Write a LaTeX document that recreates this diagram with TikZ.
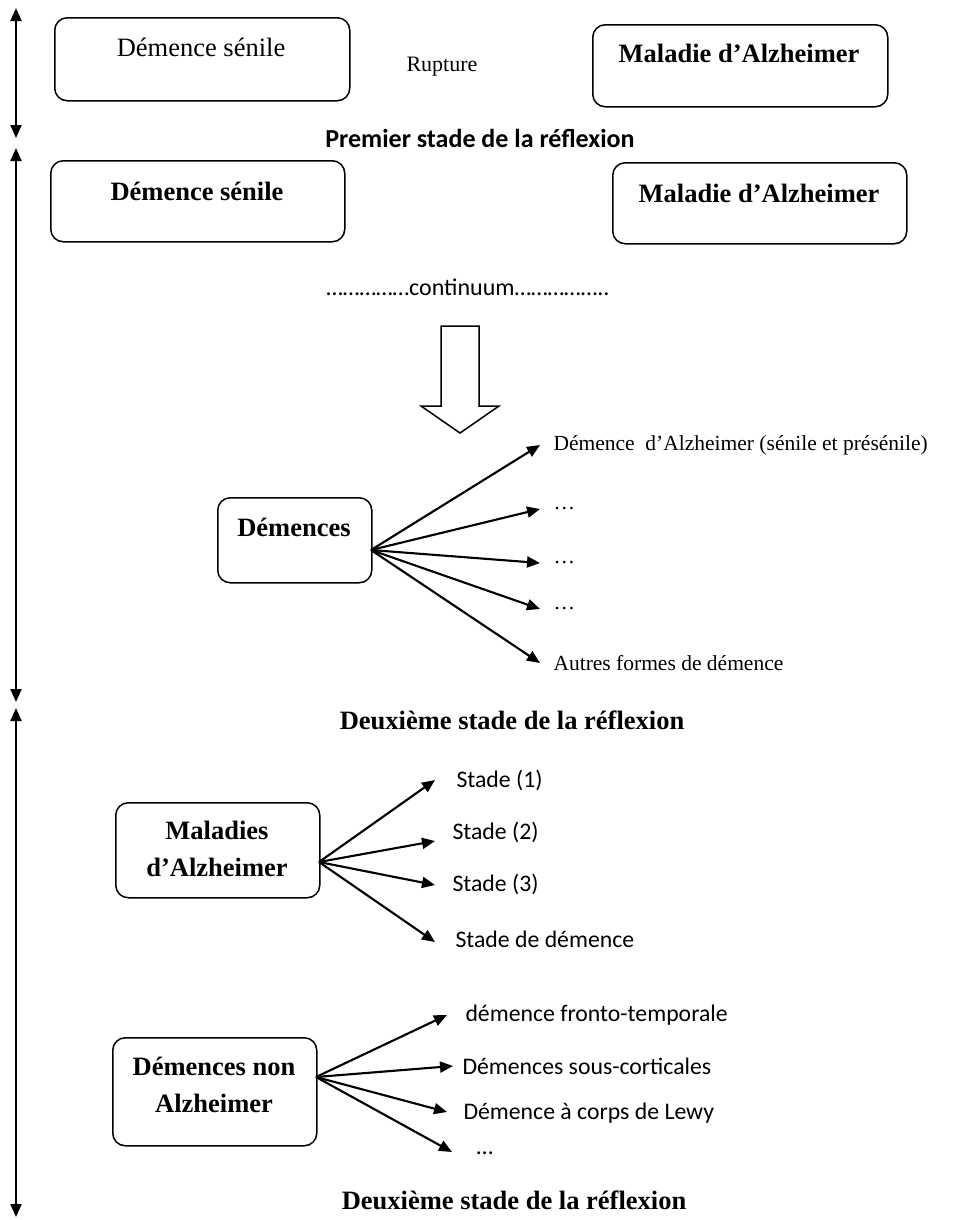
\documentclass[tikz,border=0pt]{standalone}
\usepackage{fontspec}
\setmainfont{Liberation Serif}
\newfontfamily\calibri{Carlito}
\usetikzlibrary{arrows.meta,positioning}

\tikzset{
  box/.style={draw, rounded corners=5pt, line width=0.6pt, anchor=north west, inner sep=0pt},
  boxtext/.style={font=\fontsize{10.6}{14.5}\selectfont\bfseries, align=center, inner sep=0pt},
  boxplain/.style={font=\fontsize{10.6}{14.5}\selectfont, inner sep=0pt},
  small/.style={font=\fontsize{8.6}{10}\selectfont, anchor=west, inner sep=0pt},
  sans/.style={font=\fontsize{9.5}{11}\selectfont\calibri, anchor=west, inner sep=0pt},
  heading/.style={font=\fontsize{10.6}{12}\selectfont\bfseries, inner sep=0pt},
  arr/.style={line width=0.85pt, -{Triangle[length=5.2pt,width=4.4pt]}},
  stage/.style={line width=0.85pt, {Triangle[length=5.2pt,width=4.4pt]}-{Triangle[length=5.2pt,width=4.4pt]}}
}

\begin{document}
\begin{tikzpicture}[x=0.4pt, y=-0.4pt]
    \useasboundingbox (0,0) rectangle (976,1220);

    % Stage markers (left side)
    \coordinate (s1a) at (16,8);
    \coordinate (s1b) at (16,138);
    \coordinate (s2a) at (16,148);
    \coordinate (s2b) at (16,702);
    \coordinate (s3a) at (16,708);
    \coordinate (s3b) at (16,1217);
    \draw[stage] (s1a) -- (s1b);
    \draw[stage] (s2a) -- (s2b);
    \draw[stage] (s3a) -- (s3b);

    % First stage: rupture
    \node[box, minimum width=118pt, minimum height=33.2pt] (senile1) at (54,17) {};
    \node[boxplain] (senile1t) at (201,47) {Démence sénile};
    \node[font=\fontsize{8.8}{10}\selectfont, inner sep=0pt] (rupture) at (442,67) {Rupture};
    \node[box, minimum width=118pt, minimum height=32.8pt] (alz1) at (592,24) {};
    \node[boxtext] (alz1t) at (739,53) {Maladie d’Alzheimer};
    \node[font=\fontsize{10.4}{12}\selectfont\calibri\bfseries, inner sep=0pt] (stage1) at (480,138) {Premier stade de la réflexion};

    % Second stage: continuum
    \node[box, minimum width=117.6pt, minimum height=32.4pt] (senile2) at (50,160) {};
    \node[boxtext] (senile2t) at (197,191) {Démence sénile};
    \node[box, minimum width=117.6pt, minimum height=32.4pt] (alz2) at (612,162) {};
    \node[boxtext] (alz2t) at (759,193) {Maladie d’Alzheimer};
    \node[font=\fontsize{9.6}{11}\selectfont\calibri, inner sep=0pt] (cont) at (468,287) {……………continuum……………..};
    \draw[line width=0.6pt] (441,326) -- (479,326) -- (479,406) -- (499,406) -- (460,433)
        -- (421,406) -- (441,406) -- cycle;

    % Démences
    \node[box, minimum width=61.6pt, minimum height=34pt] (dem) at (217,497) {};
    \node[boxtext] (demt) at (294,527) {Démences};
    \coordinate (demo) at (371,550);
    \coordinate (d1) at (540,445);
    \coordinate (d2) at (540,509);
    \coordinate (d3) at (540,563);
    \coordinate (d4) at (540,609);
    \coordinate (d5) at (540,663);
    \node[small] (l1) at (553,445) {Démence\ \ d’Alzheimer (sénile et présénile)};
    \node[small] (l2) at (553,509) {…};
    \node[small] (l3) at (553,563) {…};
    \node[small] (l4) at (553,609) {…};
    \node[small] (l5) at (553,663) {Autres formes de démence};
    \foreach \t in {d1,d2,d3,d4,d5}
        \draw[arr] (demo) -- (\t);

    \node[heading] (stage2) at (512,720) {Deuxième stade de la réflexion};

    % Maladies d'Alzheimer
    \node[box, minimum width=81.6pt, minimum height=38pt] (mal) at (115,802) {};
    \node[boxtext] (malt) at (217,849) {Maladies\\d’Alzheimer};
    \coordinate (malo) at (319,862);
    \coordinate (m1) at (435,780);
    \coordinate (m2) at (435,841);
    \coordinate (m3) at (435,885);
    \coordinate (m4) at (435,942);
    \node[sans] (ml1) at (456,780) {Stade (1)};
    \node[sans] (ml2) at (452,832) {Stade (2)};
    \node[sans] (ml3) at (452,884) {Stade (3)};
    \node[sans] (ml4) at (455,939) {Stade de démence};
    \foreach \t in {m1,m2,m3,m4}
        \draw[arr] (malo) -- (\t);

    % Démences non Alzheimer
    \node[box, minimum width=81.6pt, minimum height=43.2pt] (dna) at (112,1037) {};
    \node[boxtext] (dnat) at (214,1085) {Démences non\\Alzheimer};
    \coordinate (dnao) at (316,1077);
    \coordinate (n1) at (447,1015);
    \coordinate (n2) at (453,1066);
    \coordinate (n3) at (447,1112);
    \coordinate (n4) at (452,1152);
    \node[sans] (nl1) at (465,1015) {démence fronto-temporale};
    \node[sans] (nl2) at (462,1066) {Démences sous-corticales};
    \node[sans] (nl3) at (463,1113) {Démence à corps de Lewy};
    \node[sans] (nl4) at (476,1153) {…};
    \foreach \t in {n1,n2,n3,n4}
        \draw[arr] (dnao) -- (\t);

    \node[heading] (stage3) at (514,1200) {Deuxième stade de la réflexion};
\end{tikzpicture}
\end{document}
